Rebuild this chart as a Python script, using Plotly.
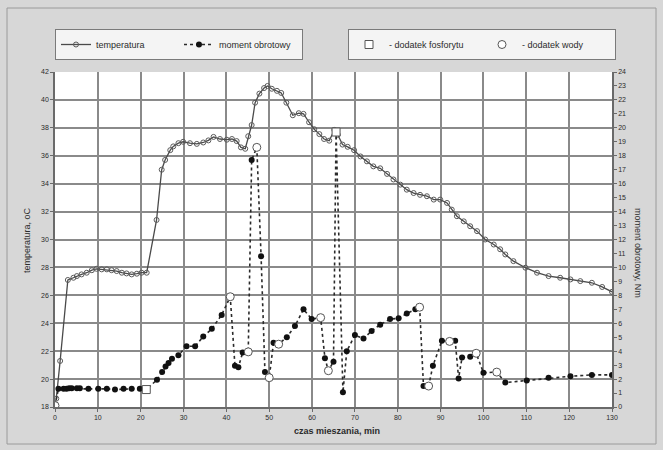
import plotly.graph_objects as go

# ---------------- data ----------------
temp_time = [0.0, 0.3, 1.2, 3.0, 4.3, 5.1, 6.2, 7.4, 8.6, 9.7, 10.9, 12.1, 13.2, 14.4, 15.6, 16.7,
             17.9, 19.1, 20.2, 21.4, 23.7, 24.9, 25.7, 26.9, 27.6, 28.8, 29.9, 31.5, 33.1, 34.6,
             35.8, 37.0, 38.5, 40.1, 41.3, 42.4, 43.4, 44.4, 45.1, 45.9, 46.7, 47.7, 48.8, 49.6,
             50.6, 51.8, 52.8, 54.0, 55.5, 56.9, 58.0, 59.3, 60.5, 61.7, 62.8, 64.0, 65.2, 66.0,
             67.1, 68.3, 69.8, 71.3, 72.8, 74.3, 75.9, 77.5, 79.0, 80.6, 82.1, 83.7, 85.2, 86.8,
             88.4, 89.9, 91.5, 92.6, 93.8, 95.4, 96.9, 98.5, 100.4, 102.4, 103.9, 105.1, 107.0,
             109.8, 112.5, 115.2, 117.9, 120.3, 122.6, 125.3, 127.7, 130.0]
temperature = [18.1, 18.6, 21.3, 27.1, 27.26, 27.38, 27.5, 27.62, 27.8, 27.9, 27.86, 27.86, 27.8,
               27.74, 27.62, 27.57, 27.5, 27.55, 27.62, 27.62, 31.4, 35.0, 35.7, 36.4, 36.67, 36.9,
               37.0, 36.9, 36.85, 36.95, 37.1, 37.35, 37.2, 37.15, 37.2, 37.05, 36.6, 36.5, 37.4,
               38.2, 39.8, 40.45, 40.85, 41.0, 40.8, 40.65, 40.5, 39.8, 38.9, 39.05, 39.0, 38.4,
               37.9, 37.55, 37.2, 37.08, 37.85, 37.5, 36.8, 36.64, 36.4, 35.95, 35.6, 35.24, 35.1,
               34.7, 34.3, 33.93, 33.57, 33.33, 33.2, 33.1, 32.86, 32.86, 32.62, 32.14, 31.67, 31.3,
               30.95, 30.6, 30.0, 29.64, 29.3, 28.93, 28.45, 27.98, 27.62, 27.38, 27.26, 27.14,
               27.02, 26.9, 26.6, 26.25]

moment_time = [0.0, 0.8, 2.0, 2.7, 3.3, 3.9, 5.1, 5.8, 7.8, 10.1, 12.1, 14.0, 16.0, 17.9, 19.8,
               21.3, 23.8, 25.0, 25.8, 26.5, 27.3, 28.8, 30.7, 32.7, 34.6, 36.6, 38.9, 40.9, 42.0,
               42.8, 43.8, 45.1, 45.9, 47.1, 48.1, 49.0, 50.0, 51.0, 52.2, 54.1, 56.0, 58.0, 59.9,
               62.0, 63.0, 63.8, 65.0, 65.6, 67.2, 68.1, 70.0, 72.0, 73.9, 75.9, 78.2, 80.2, 82.1,
               84.1, 85.1, 86.0, 87.2, 88.2, 90.3, 92.1, 93.4, 94.2, 95.0, 96.9, 98.3, 100.0, 103.1,
               105.1, 110.1, 115.2, 120.3, 125.3, 130.0]
moment = [0.1, 1.3, 1.3, 1.3, 1.35, 1.35, 1.35, 1.35, 1.3, 1.3, 1.3, 1.25, 1.3, 1.3, 1.3, 1.25,
          1.95, 2.5, 2.9, 3.15, 3.45, 3.7, 4.35, 4.35, 5.05, 5.6, 6.6, 7.9, 2.95, 2.85, 3.9, 3.95,
          17.7, 18.6, 10.8, 2.5, 2.1, 4.6, 4.5, 5.0, 5.8, 7.0, 6.3, 6.4, 3.5, 2.6, 3.25, 19.7, 1.05,
          4.0, 5.15, 4.9, 5.45, 5.9, 6.3, 6.35, 6.7, 7.0, 7.15, 1.5, 1.5, 2.95, 4.75, 4.7, 4.75,
          2.05, 3.55, 3.6, 3.85, 2.45, 2.5, 1.75, 1.9, 2.1, 2.2, 2.3, 2.3]

# times (min) of additions, marked on the moment curve
phosphorite_times = [21.3, 65.6]
water_times = [0.0, 40.9, 45.1, 47.1, 50.0, 52.2, 62.0, 63.8, 85.1, 87.2, 92.1, 98.3, 103.1]

x_ticks = list(range(0, 131, 10))
left_ticks = list(range(18, 43, 2))
right_ticks = list(range(0, 25, 1))

lookup = dict(zip(moment_time, moment))
phos_m = [lookup[t] for t in phosphorite_times]
water_m = [lookup[t] for t in water_times]

# ---------------- figure ----------------
FONT = "Liberation Sans, Arial, sans-serif"
TXT = "#2b2b2b"

fig = go.Figure()
fig.add_trace(go.Scatter(
    x=temp_time, y=temperature, name="temperatura", mode="lines+markers",
    line=dict(color="#4a4a4a", width=1.3),
    marker=dict(symbol="circle-open", size=5, color="#5a5a5a", line=dict(width=1)),
    legend="legend"))
fig.add_trace(go.Scatter(
    x=moment_time, y=moment, name="moment obrotowy", mode="lines+markers", yaxis="y2",
    line=dict(color="#2a2a2a", width=1.6, dash="dot"),
    marker=dict(symbol="circle", size=6, color="#111111"),
    legend="legend"))
fig.add_trace(go.Scatter(
    x=phosphorite_times, y=phos_m, name="- dodatek fosforytu", mode="markers", yaxis="y2",
    marker=dict(symbol="square", size=8, color="white", line=dict(color="#555555", width=1)),
    legend="legend2"))
fig.add_trace(go.Scatter(
    x=water_times, y=water_m, name="- dodatek wody", mode="markers", yaxis="y2",
    marker=dict(symbol="circle", size=8, color="white", line=dict(color="#555555", width=1)),
    legend="legend2"))

W, H = 663, 450
L, R, T, B = 55, 51, 72, 43
pw, ph = W - L - R, H - T - B

def px(xp):
    return (xp - L) / pw

def py(yp):
    return (H - B - yp) / ph

axis_common = dict(showline=True, linecolor="#6a6a6a", linewidth=1.5,
                   tickfont=dict(family=FONT, size=7, color=TXT), zeroline=False)

fig.update_layout(
    width=W, height=H,
    margin=dict(l=L, r=R, t=T, b=B, autoexpand=False),
    paper_bgcolor="#d7d7d7", plot_bgcolor="white",
    font=dict(family=FONT, size=9, color=TXT),
    xaxis=dict(range=[0, 130], tickvals=x_ticks, showgrid=True, gridcolor="#8a8a8a",
               gridwidth=1.8, ticks="outside", ticklen=3, tickcolor="#6a6a6a", **axis_common),
    yaxis=dict(range=[18, 42], tickvals=left_ticks, showgrid=True, gridcolor="#8a8a8a",
               gridwidth=1.8, ticks="outside", ticklen=3, tickcolor="#6a6a6a", **axis_common),
    yaxis2=dict(range=[0, 24], tickvals=right_ticks, overlaying="y", side="right",
                showgrid=False, ticks="outside", ticklen=3, tickcolor="#6a6a6a", **axis_common),
    legend=dict(x=px(55), y=py(29), xanchor="left", yanchor="top", orientation="h",
                bgcolor="#f4f4f4", bordercolor="#7a7a7a", borderwidth=1,
                font=dict(family=FONT, size=9, color=TXT), itemwidth=30,
                entrywidth=78, entrywidthmode="pixels"),
    legend2=dict(x=px(348), y=py(29), xanchor="left", yanchor="top", orientation="h",
                 bgcolor="#f4f4f4", bordercolor="#7a7a7a", borderwidth=1,
                 font=dict(family=FONT, size=9, color=TXT), itemwidth=30,
                 entrywidth=88, entrywidthmode="pixels"),
    showlegend=True,
)

fig.add_annotation(text="temperatura, oC", xref="paper", yref="paper", x=px(20), y=py(240),
                   textangle=-90, showarrow=False, font=dict(family=FONT, size=9, color=TXT))
fig.add_annotation(text="moment obrotowy, Nm", xref="paper", yref="paper", x=px(645), y=py(253),
                   textangle=90, showarrow=False, font=dict(family=FONT, size=9, color=TXT))
fig.add_annotation(text="<b>czas mieszania, min</b>", xref="paper", yref="paper", x=px(337),
                   y=py(438), showarrow=False, font=dict(family=FONT, size=9, color=TXT))

fig.add_shape(type="rect", xref="paper", yref="paper", x0=px(7), x1=px(656), y0=py(444), y1=py(8),
              line=dict(color="#9a9a9a", width=1), layer="below")

fig.write_html("out.html", config={"displayModeBar": False},
               post_script="document.body.style.margin='0';")
